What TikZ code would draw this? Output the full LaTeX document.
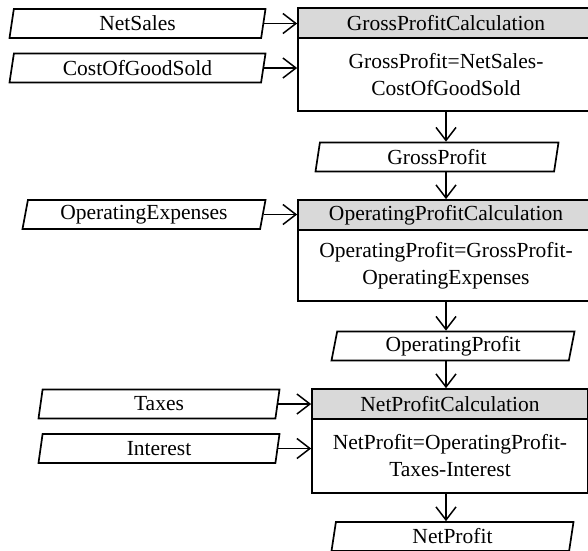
\documentclass[tikz,border=0pt]{standalone}
\usepackage{fontspec}
\setmainfont{Liberation Serif}
\usetikzlibrary{arrows.meta,shapes.geometric}
\definecolor{headgray}{RGB}{217,217,217}
\tikzset{
    data/.style={trapezium, trapezium left angle=74, trapezium right angle=106,
        trapezium stretches body, draw, line width=1.7pt, minimum height=29pt,
        inner sep=0pt, font=\fontsize{21.5}{26}\selectfont},
    calchead/.style={rectangle, draw, fill=headgray, line width=1.7pt,
        minimum height=30pt, inner sep=0pt, font=\fontsize{21.5}{26}\selectfont},
    calcbody/.style={rectangle, draw, line width=1.7pt, align=center,
        inner sep=0pt, font=\fontsize{21.5}{27}\selectfont},
    flow/.style={-{Straight Barb[length=13pt,width=20pt]}, line width=1.5pt},
}
\begin{document}
\begin{tikzpicture}[x=1pt,y=-1pt]
    \clip (0,0) rectangle (588,550);
    % gross profit
    \node[calcbody, minimum width=296pt, minimum height=73pt] (body1) at (446,74.5) {GrossProfit=NetSales-\\CostOfGoodSold};
    \node[calchead, minimum width=296pt] (head1) at (446,23) {GrossProfitCalculation};
    \node[data, minimum width=256pt] (ns) at (137.5,23.5) {NetSales};
    \node[data, minimum width=256pt] (cogs) at (137.5,68) {CostOfGoodSold};
    \node[data, minimum width=243pt] (gp) at (437,157) {GrossProfit};
    % operating profit
    \node[calcbody, minimum width=296pt, minimum height=71pt] (body2) at (446,265.5) {OperatingProfit=GrossProfit-\\OperatingExpenses};
    \node[calchead, minimum width=296pt] (head2) at (446,215) {OperatingProfitCalculation};
    \node[data, minimum width=243pt] (oe) at (144,214.5) {OperatingExpenses};
    \node[data, minimum width=243pt] (op) at (453,346) {OperatingProfit};
    % net profit
    \node[calcbody, minimum width=276pt, minimum height=74pt] (body3) at (450,456) {NetProfit=OperatingProfit-\\Taxes-Interest};
    \node[calchead, minimum width=276pt] (head3) at (450,404) {NetProfitCalculation};
    \node[data, minimum width=241pt] (tx) at (159,404) {Taxes};
    \node[data, minimum width=241pt] (int) at (159,448.5) {Interest};
    \node[data, minimum width=242pt] (np) at (452.5,536.5) {NetProfit};
    % connectors
    \draw[flow] (ns.east) -- (ns.east -| head1.west);
    \draw[flow] (cogs.east) -- (cogs.east -| body1.west);
    \draw[flow] (body1.south) -- (gp.north -| body1.south);
    \draw[flow] (gp.south -| body1.south) -- (head2.north);
    \draw[flow] (oe.east) -- (oe.east -| head2.west);
    \draw[flow] (body2.south) -- (op.north -| body2.south);
    \draw[flow] (op.south -| body2.south) -- (head3.north -| body2.south);
    \draw[flow] (tx.east) -- (tx.east -| head3.west);
    \draw[flow] (int.east) -- (int.east -| body3.west);
    \draw[flow] (body3.south -| body2.south) -- (np.north -| body2.south);
\end{tikzpicture}
\end{document}
